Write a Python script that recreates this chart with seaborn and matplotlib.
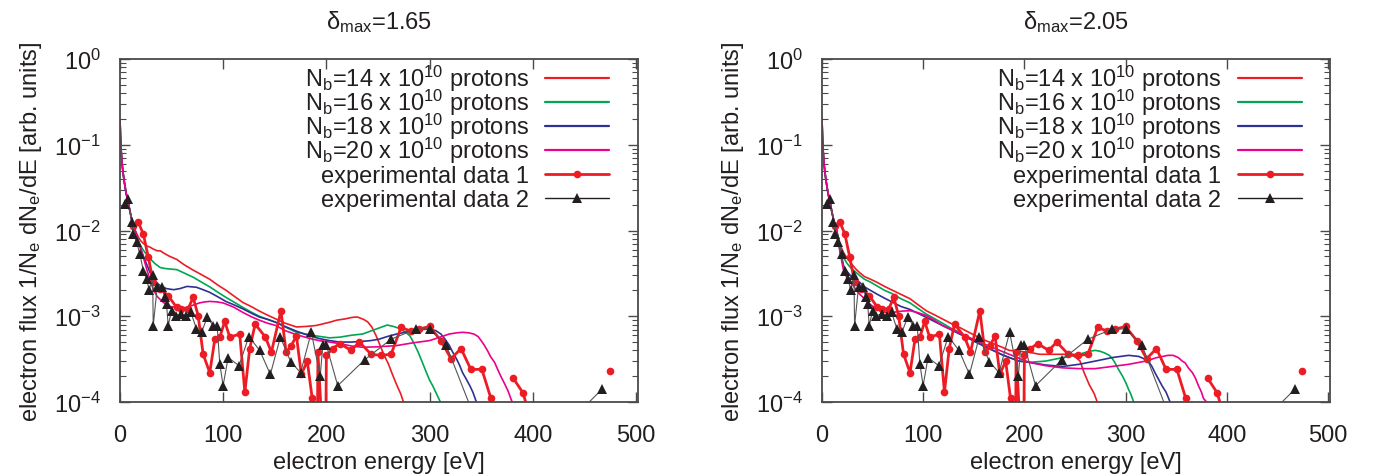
import numpy as np
import pandas as pd
import matplotlib
matplotlib.use("Agg")
import matplotlib.pyplot as plt
from matplotlib.lines import Line2D
from matplotlib.ticker import LogLocator, FixedLocator, NullFormatter
import seaborn as sns

# ---------------- data ----------------
E_START = [0, 0.5, 1, 2, 3, 4, 5, 6, 8, 10, 12, 14]
F_START = [0.2, 0.125, 0.09, 0.06, 0.047, 0.038, 0.032, 0.027, 0.021, 0.016, 0.0125, 0.0105]

# delta_max = 1.65
E_L14 = [16, 18, 20, 23, 26, 29, 32, 36, 39, 43, 48, 55, 62, 70, 78, 87, 95, 103, 111, 119, 127, 135, 143, 151, 160, 171, 180, 190, 203, 210, 218, 225, 230, 236, 240, 244, 248, 252, 256, 260, 264, 268, 272, 276, 280]
F_L14 = [0.0093, 0.0083, 0.0076, 0.0070, 0.0066, 0.0064, 0.0061, 0.0058, 0.0058, 0.0054, 0.0050, 0.0046, 0.0040, 0.0035, 0.0031, 0.0027, 0.0023, 0.0020, 0.0017, 0.00145, 0.0013, 0.00115, 0.00103, 0.00093, 0.00083, 0.00075, 0.00076, 0.00078, 0.00085, 0.0009, 0.00093, 0.00097, 0.00098, 0.00092, 0.00086, 0.00075, 0.0006, 0.00046, 0.00035, 0.00028, 0.00021, 0.00016, 0.000125, 0.00009, 0.00006]
E_L16 = [16, 18, 20, 23, 26, 29, 34, 39, 44, 49, 55, 62, 71, 79, 87, 95, 103, 111, 119, 127, 135, 143, 151, 161, 171, 180, 190, 203, 213, 224, 235, 247, 259, 265, 271, 276, 281, 285, 289, 293, 297, 300, 303, 306, 310, 314]
F_L16 = [0.0088, 0.0075, 0.0066, 0.0058, 0.0052, 0.0047, 0.0041, 0.0037, 0.0036, 0.00355, 0.0035, 0.0032, 0.00285, 0.0025, 0.0022, 0.0019, 0.00165, 0.00145, 0.00127, 0.00112, 0.001, 0.00092, 0.00085, 0.00074, 0.00065, 0.00062, 0.00059, 0.00056, 0.00057, 0.0006, 0.00062, 0.0007, 0.00079, 0.00076, 0.00072, 0.00066, 0.00059, 0.00048, 0.00038, 0.00029, 0.00022, 0.00018, 0.000155, 0.00013, 0.000103, 0.00007]
E_L18 = [16, 18, 20, 23, 26, 29, 32, 35, 39, 45, 52, 58, 65, 70, 74, 80, 87, 95, 103, 111, 119, 127, 135, 143, 151, 160, 171, 184, 193, 203, 213, 224, 235, 243, 251, 259, 268, 276, 284, 292, 300, 306, 311, 315, 319, 322, 326, 329, 332, 335, 339, 342, 345, 350]
F_L18 = [0.0088, 0.0073, 0.0062, 0.0049, 0.004, 0.00325, 0.0028, 0.0025, 0.00227, 0.0021, 0.00204, 0.0021, 0.00223, 0.0022, 0.00218, 0.00205, 0.0019, 0.00168, 0.00148, 0.00135, 0.00122, 0.00109, 0.00098, 0.00092, 0.00085, 0.00076, 0.00067, 0.00059, 0.00055, 0.00052, 0.0005, 0.0005, 0.00051, 0.00052, 0.00054, 0.00058, 0.00062, 0.00065, 0.00068, 0.0007, 0.00071, 0.00068, 0.00062, 0.00054, 0.00046, 0.00039, 0.00032, 0.00027, 0.00022, 0.00019, 0.000155, 0.00013, 0.000103, 0.00007]
E_L20 = [16, 18, 20, 23, 26, 29, 32, 36, 42, 48, 55, 60, 65, 71, 77, 82, 87, 94, 100, 110, 119, 127, 135, 143, 151, 160, 171, 184, 193, 203, 213, 224, 235, 250, 268, 284, 300, 310, 319, 326, 332, 338, 343, 347, 350, 353, 356, 359, 363, 366, 369, 372, 376, 380, 385]
F_L20 = [0.0088, 0.0073, 0.0061, 0.0047, 0.0035, 0.0027, 0.0021, 0.0017, 0.00145, 0.0013, 0.00127, 0.00125, 0.00127, 0.00135, 0.00143, 0.00147, 0.00149, 0.00147, 0.00143, 0.00128, 0.00111, 0.00099, 0.0009, 0.00083, 0.00078, 0.00068, 0.00061, 0.00055, 0.00052, 0.0005, 0.00048, 0.00045, 0.000435, 0.00044, 0.000455, 0.00049, 0.00052, 0.00057, 0.00062, 0.00064, 0.00065, 0.00064, 0.00062, 0.00058, 0.00052, 0.00046, 0.0004, 0.00034, 0.00029, 0.00024, 0.0002, 0.00017, 0.000135, 0.0001, 0.00007]

# delta_max = 2.05
E_R14 = [16, 18, 21, 25, 29, 33, 37, 42, 48, 54, 62, 70, 78, 87, 95, 103, 111, 119, 127, 136, 144, 152, 160, 169, 177, 185, 195, 205, 215, 230, 240, 247, 251, 255, 259, 264, 269, 272, 276]
F_R14 = [0.0085, 0.0068, 0.0056, 0.0047, 0.0041, 0.0036, 0.00324, 0.0029, 0.0027, 0.0025, 0.00222, 0.002, 0.0018, 0.0016, 0.00136, 0.00116, 0.00104, 0.00093, 0.00083, 0.00074, 0.00066, 0.00059, 0.00053, 0.00048, 0.00044, 0.0004, 0.00039, 0.00038, 0.00036, 0.00036, 0.00036, 0.00035, 0.00033, 0.0003, 0.00022, 0.00016, 0.000125, 0.0001, 0.00007]
E_R16 = [16, 18, 21, 25, 29, 33, 37, 42, 48, 54, 62, 70, 78, 87, 95, 103, 111, 119, 127, 136, 144, 152, 160, 169, 177, 185, 195, 205, 221, 238, 254, 264, 270, 275, 280, 284, 287, 290, 293, 297, 300, 303, 305, 308, 312]
F_R16 = [0.0082, 0.0063, 0.0049, 0.0041, 0.0036, 0.0033, 0.003, 0.0027, 0.0025, 0.00227, 0.002, 0.00182, 0.0016, 0.00143, 0.00123, 0.00106, 0.00094, 0.00083, 0.00073, 0.00065, 0.00057, 0.0005, 0.00045, 0.0004, 0.00036, 0.00033, 0.0003, 0.00029, 0.0003, 0.00033, 0.00036, 0.00039, 0.0004, 0.00039, 0.00037, 0.00035, 0.00032, 0.00028, 0.00024, 0.0002, 0.00017, 0.00014, 0.000125, 0.0001, 0.00007]
E_R18 = [16, 18, 21, 25, 29, 33, 37, 42, 48, 54, 62, 70, 78, 87, 95, 103, 111, 119, 127, 136, 144, 152, 160, 169, 177, 185, 195, 205, 221, 238, 254, 270, 287, 303, 313, 318, 323, 326, 329, 333, 336, 340, 344, 350]
F_R18 = [0.0078, 0.0055, 0.0039, 0.0033, 0.0029, 0.0027, 0.0025, 0.0022, 0.002, 0.00182, 0.00162, 0.00145, 0.0013, 0.0012, 0.00108, 0.00097, 0.00087, 0.00078, 0.0007, 0.00062, 0.00056, 0.0005, 0.00045, 0.0004, 0.00036, 0.00033, 0.0003, 0.00029, 0.00027, 0.00026, 0.000275, 0.0003, 0.00033, 0.00035, 0.00034, 0.00032, 0.000295, 0.00026, 0.00022, 0.00018, 0.000155, 0.00013, 0.0001, 0.00007]
E_R20 = [16, 18, 21, 24, 27, 31, 34, 37, 42, 47, 54, 59, 64, 69, 74, 80, 87, 95, 103, 111, 119, 136, 152, 169, 185, 205, 221, 238, 254, 270, 287, 303, 320, 331, 342, 347, 352, 356, 359, 362, 366, 369, 372, 375, 377, 380, 384]
F_R20 = [0.0078, 0.0055, 0.00355, 0.0029, 0.0025, 0.00227, 0.002, 0.00182, 0.0016, 0.00139, 0.00122, 0.00113, 0.0011, 0.0011, 0.00113, 0.00115, 0.00116, 0.0011, 0.00102, 0.0009, 0.00078, 0.00064, 0.00052, 0.00043, 0.00036, 0.00029, 0.000265, 0.00025, 0.000245, 0.000245, 0.00026, 0.000275, 0.0003, 0.00033, 0.00035, 0.00035, 0.00033, 0.0003, 0.000285, 0.00025, 0.00022, 0.00019, 0.000155, 0.00013, 0.00011, 0.0001, 0.00007]

# experimental data (same in both panels); nan = empty bin (gap)
E_EXP1 = [12.9, 17.7, 22.6, 27.4, 32.2, 38.7, 46.7, 54.8, 59.6, 66, 70.9, 75.7, 80.6, 87, 91.9, 96.7, 101.5, 106.4, 116, 121, 125.7, 131, 141, 146.7, 156, 161, 166, 171, 175.7, 181.5, 186.3, 191, 191.8, 199, 200, 206, 213, 224, 232, 243.4, 253, 262.7, 272.4, 282, 290, 300, 311, 320.8, 330.5, 340, 350.7, 359.5, 370, 381, 390.7, 400, 440, 474.5]
F_EXP1 = [0.0114, 0.0125, 0.0091, 0.0049, 0.0025, 0.0021, 0.00174, 0.00127, 0.0012, 0.00122, 0.00166, 0.00102, 3.6e-4, 2.2e-4, 5.4e-4, 5.7e-4, 8.7e-4, 5.7e-4, 6.2e-4, 1.3e-4, 4.2e-4, 8.1e-4, 5.7e-4, 3.8e-4, 1.16e-3, 3.8e-4, 4.55e-4, 5.9e-4, 2.1e-4, 3.0e-4, 1.1e-4, 1e-5, 3.8e-4, 1e-5, 3.5e-4, 4.2e-4, 4.8e-4, 4.0e-4, 5.0e-4, 3.6e-4, 3.5e-4, 3.6e-4, 7.4e-4, 6.7e-4, 7.1e-4, 7.6e-4, 5.2e-4, 3.2e-4, 4.2e-4, 2.4e-4, 2.4e-4, 1.1e-4, np.nan, 1.9e-4, 1.27e-4, 5e-5, np.nan, 2.3e-4]
E_EXP2 = [4.8, 8.1, 11.3, 12.9, 16.1, 19.3, 22.6, 25.8, 28.4, 31.6, 32.2, 36.1, 40.3, 43.5, 45.1, 46.7, 50, 53.8, 59, 63.8, 68.7, 74.1, 79, 84.5, 90.3, 94.1, 96.7, 99.9, 104.8, 115.4, 124.8, 135.4, 145.7, 155.4, 165.4, 175, 185.4, 194, 196.6, 199.9, 211, 237, 262.7, 287, 300, 316, 345, 440, 467]
F_EXP2 = [0.0204, 0.0233, 0.0125, 0.0091, 0.0073, 0.0053, 0.0034, 0.0027, 0.0020, 0.0030, 7.8e-4, 2.2e-3, 2.2e-3, 1.66e-3, 1.39e-3, 7.8e-4, 1.16e-3, 1.02e-3, 1.06e-3, 1.02e-3, 1.11e-3, 7.1e-4, 6.5e-4, 9.7e-4, 7.8e-4, 7.8e-4, 2.8e-4, 1.55e-4, 3.3e-4, 2.65e-4, 5.8e-4, 4.0e-4, 2.1e-4, 5.7e-4, 2.95e-4, 2.2e-4, 6.5e-4, 2.0e-4, 4.65e-4, 4.65e-4, 1.55e-4, 3.1e-4, 5.4e-4, 7.1e-4, 7.1e-4, 4.65e-4, 6e-5, 6.7e-5, 1.4e-4]

TITLES = ["\u03b4$_{\\mathrm{max}}$=1.65", "\u03b4$_{\\mathrm{max}}$=2.05"]
SIM_LABELS = ["N$_{\\mathrm{b}}$=14 x 10$^{10}$ protons", "N$_{\\mathrm{b}}$=16 x 10$^{10}$ protons",
              "N$_{\\mathrm{b}}$=18 x 10$^{10}$ protons", "N$_{\\mathrm{b}}$=20 x 10$^{10}$ protons"]
EXP_LABELS = ["experimental data 1", "experimental data 2"]
X_TICKS = [0, 100, 200, 300, 400, 500]

SIM_COLORS = ["#ec1c24", "#00a651", "#2e3192", "#ec008c"]
EXP1_COLOR = "#ed1c24"
EXP2_COLOR = "#231f20"

# ---------------- style ----------------
sns.set_theme(style="ticks")
plt.rcParams["font.family"] = ["Liberation Sans", "DejaVu Sans"]
plt.rcParams["mathtext.fontset"] = "custom"
plt.rcParams["mathtext.rm"] = "Liberation Sans"
plt.rcParams["mathtext.it"] = "Liberation Sans:italic"
plt.rcParams["mathtext.bf"] = "Liberation Sans:bold"
plt.rcParams["axes.unicode_minus"] = False
FS = 17
SPINE = "#4a4a4a"
TEXT = "#231f20"


def segments(E, F):
    df = pd.DataFrame({"E": E, "F": F})
    df["seg"] = df["F"].isna().cumsum()
    return df.dropna()


fig = plt.figure(figsize=(13.77, 4.77), dpi=100)
ax_l = fig.add_axes([120 / 1377, 1 - 403 / 477, 518 / 1377, 343 / 477])
ax_r = fig.add_axes([822 / 1377, 1 - 403 / 477, 508 / 1377, 343 / 477])

panels = [
    (ax_l, [(E_L14, F_L14), (E_L16, F_L16), (E_L18, F_L18), (E_L20, F_L20)], TITLES[0]),
    (ax_r, [(E_R14, F_R14), (E_R16, F_R16), (E_R18, F_R18), (E_R20, F_R20)], TITLES[1]),
]

exp1 = segments(E_EXP1, F_EXP1)
exp2 = segments(E_EXP2, F_EXP2)

for ax, sims, title in panels:
    for (E, F), c in zip(sims, SIM_COLORS):
        df = pd.DataFrame({"E": E_START + E, "F": F_START + F})
        sns.lineplot(data=df, x="E", y="F", ax=ax, color=c, lw=1.2,
                     estimator=None, sort=False, legend=False)
    sns.lineplot(data=exp1, x="E", y="F", units="seg", ax=ax, color=EXP1_COLOR,
                 lw=2.0, marker="o", markersize=5.5, markeredgewidth=0,
                 estimator=None, sort=False, legend=False)
    sns.lineplot(data=exp2, x="E", y="F", units="seg", ax=ax, color="#555555",
                 lw=0.8, marker="^", markersize=7.5, markeredgewidth=0,
                 markerfacecolor=EXP2_COLOR, estimator=None, sort=False, legend=False)

    ax.set_yscale("log")
    ax.set_ylim(1e-4, 1)
    ax.set_xlim(0, 502)
    ax.xaxis.set_major_locator(FixedLocator(X_TICKS))
    ax.yaxis.set_major_locator(LogLocator(base=10, numticks=10))
    ax.yaxis.set_minor_locator(LogLocator(base=10, subs=np.arange(2, 10), numticks=20))
    ax.yaxis.set_minor_formatter(NullFormatter())
    ax.tick_params(which="both", direction="in", top=True, right=True, color=SPINE,
                   labelsize=FS, labelcolor=TEXT)
    ax.tick_params(axis="x", which="major", length=7, width=1.0, pad=15.5)
    ax.tick_params(axis="y", which="major", length=7, width=1.0, pad=14)
    ax.tick_params(which="minor", length=4, width=0.8)
    for s in ax.spines.values():
        s.set_color(SPINE)
        s.set_linewidth(1.3)
    ax.set_title(title, fontsize=FS, color=TEXT, pad=22)
    ax.set_xlabel("electron energy [eV]", fontsize=FS, color=TEXT, labelpad=4)
    ax.set_ylabel("electron flux 1/N$_{\\mathrm{e}}$ dN$_{\\mathrm{e}}$/dE [arb. units]",
                  fontsize=FS, color=TEXT, labelpad=7)
    ax.grid(False)

    sim_handles = [Line2D([], [], color=c, lw=1.6) for c in SIM_COLORS]
    exp_handles = [
        Line2D([], [], color=EXP1_COLOR, lw=2.0, marker="o", markersize=5.5, markeredgewidth=0),
        Line2D([], [], color=EXP2_COLOR, lw=1.0, marker="^", markersize=7.5, markeredgewidth=0),
    ]
    leg1 = ax.legend(sim_handles, SIM_LABELS, loc="upper right", bbox_to_anchor=(0.944, 0.989),
                     frameon=False, markerfirst=False, fontsize=FS, handlelength=2.7,
                     handletextpad=0.7, labelspacing=-0.26, borderpad=0, borderaxespad=0,
                     labelcolor=TEXT)
    ax.add_artist(leg1)
    ax.legend(exp_handles, EXP_LABELS, loc="upper right", bbox_to_anchor=(0.944, 0.69),
              frameon=False, markerfirst=False, fontsize=FS, handlelength=2.7,
              handletextpad=0.7, labelspacing=0.07, borderpad=0, borderaxespad=0,
              numpoints=1, labelcolor=TEXT)

fig.savefig("out.png", dpi=100)
